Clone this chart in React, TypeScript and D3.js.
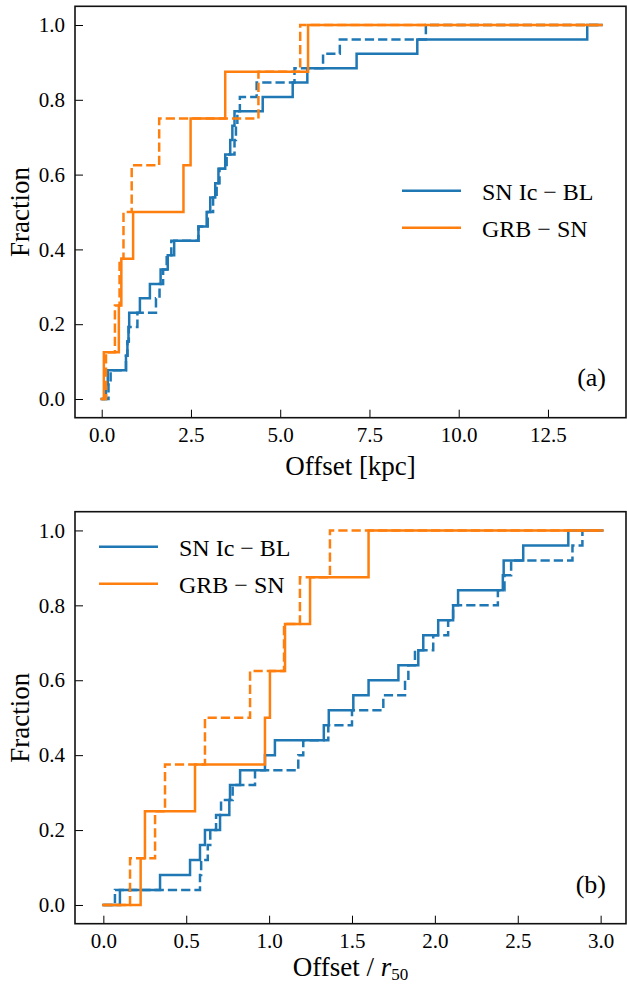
import React, { useEffect, useRef } from "react";
import * as d3 from "d3";

const BLUE = "#1f77b4";
const ORANGE = "#ff7f0e";
const FONT = "Liberation Serif, DejaVu Serif, serif";

// offsets (kpc) at which each cumulative curve steps up
const kpcIcBL = [0.12, 0.17, 0.68, 0.72, 0.75, 0.77, 1.07, 1.35, 1.65, 1.85, 2.03, 2.71, 2.94, 3.04, 3.18, 3.27, 3.46, 3.6, 3.66, 3.72, 4.51, 5.35, 5.76, 7.14, 8.84, 13.6];
const kpcIcBLAlt = [0.19, 0.25, 0.68, 0.72, 0.76, 1.0, 1.52, 1.62, 1.72, 1.82, 1.95, 2.71, 2.97, 3.12, 3.22, 3.3, 3.5, 3.72, 3.76, 3.8, 3.87, 4.34, 5.4, 6.2, 6.67, 9.08];
const kpcGRB = [0.06, 0.48, 0.55, 0.88, 2.29, 2.49, 3.46, 5.78];
const kpcGRBAlt = [0.12, 0.37, 0.5, 0.61, 0.84, 1.61, 4.39, 5.56];

// offsets in units of r50, panel (b)
const r50IcBL = [0.1, 0.342, 0.523, 0.583, 0.613, 0.704, 0.76, 0.764, 0.825, 0.975, 1.035, 1.33, 1.36, 1.508, 1.6, 1.78, 1.9, 1.93, 2.02, 2.11, 2.14, 2.41, 2.415, 2.533, 2.805];
const r50IcBLAlt = [0.07, 0.583, 0.59, 0.63, 0.645, 0.68, 0.71, 0.78, 0.915, 1.176, 1.206, 1.357, 1.5, 1.689, 1.82, 1.84, 1.88, 1.99, 2.08, 2.11, 2.38, 2.42, 2.46, 2.83, 2.89];
const r50GRB = [0.225, 0.251, 0.553, 0.975, 1.005, 1.096, 1.247, 1.6];
const r50GRBAlt = [0.161, 0.312, 0.372, 0.613, 0.885, 1.09, 1.186, 1.367];

const yTicks = [0, 0.2, 0.4, 0.6, 0.8, 1.0];
const kpcTicks = [0, 2.5, 5, 7.5, 10, 12.5];
const r50Ticks = [0, 0.5, 1, 1.5, 2, 2.5, 3];
const legendLabels = ["SN Ic \u2212 BL", "GRB \u2212 SN"];

const LEFT = 75;
const RIGHT = 626;

type Panel = {
  top: number;
  bottom: number;
  xDomain: [number, number];
  xTicks: number[];
  xEnd: number;
  curves: { data: number[]; color: string; dashed: boolean }[];
  legendX: number;
  legendY: number;
  tag: string;
  tagY: number;
  xLabelY: number;
  kpc: boolean;
};

const panels: Panel[] = [
  {
    top: 6.3,
    bottom: 417.7,
    xDomain: [-0.748, 14.686],
    xTicks: kpcTicks,
    xEnd: 14.0,
    curves: [
      { data: kpcIcBL, color: BLUE, dashed: false },
      { data: kpcIcBLAlt, color: BLUE, dashed: true },
      { data: kpcGRB, color: ORANGE, dashed: false },
      { data: kpcGRBAlt, color: ORANGE, dashed: true },
    ],
    legendX: 402,
    legendY: 190.7,
    tag: "(a)",
    tagY: 386,
    xLabelY: 475,
    kpc: true,
  },
  {
    top: 511.7,
    bottom: 923.7,
    xDomain: [-0.171, 3.153],
    xTicks: r50Ticks,
    xEnd: 3.01,
    curves: [
      { data: r50IcBL, color: BLUE, dashed: false },
      { data: r50IcBLAlt, color: BLUE, dashed: true },
      { data: r50GRB, color: ORANGE, dashed: false },
      { data: r50GRBAlt, color: ORANGE, dashed: true },
    ],
    legendX: 99,
    legendY: 546.7,
    tag: "(b)",
    tagY: 893,
    xLabelY: 976,
    kpc: false,
  },
];

function drawPanel(svg: d3.Selection<SVGSVGElement, unknown, null, undefined>, p: Panel) {
  const x = d3.scaleLinear().domain(p.xDomain).range([LEFT, RIGHT]);
  const y = d3.scaleLinear().domain([-0.05, 1.05]).range([p.bottom, p.top]);
  const g = svg.append("g").attr("font-family", FONT);

  const line = d3
    .line<[number, number]>()
    .x((d) => x(d[0]))
    .y((d) => y(d[1]))
    .curve(d3.curveStepAfter);

  p.curves.forEach((c) => {
    const n = c.data.length;
    const pts: [number, number][] = [[0, 0]];
    c.data.forEach((v, i) => pts.push([v, (i + 1) / n]));
    pts.push([p.xEnd, 1]);
    g.append("path")
      .attr("d", line(pts))
      .attr("fill", "none")
      .attr("stroke", c.color)
      .attr("stroke-width", 2.5)
      .attr("stroke-linecap", c.dashed ? "butt" : "square")
      .attr("stroke-dasharray", c.dashed ? "9.25,4" : null);
  });

  const xAxis = g
    .append("g")
    .attr("transform", `translate(0,${p.bottom})`)
    .call(
      d3
        .axisBottom(x)
        .tickValues(p.xTicks)
        .tickSizeInner(-8)
        .tickSizeOuter(0)
        .tickPadding(9)
        .tickFormat(d3.format(".1f"))
    );
  const yAxis = g
    .append("g")
    .attr("transform", `translate(${LEFT},0)`)
    .call(
      d3
        .axisLeft(y)
        .tickValues(yTicks)
        .tickSizeInner(-8)
        .tickSizeOuter(0)
        .tickPadding(10)
        .tickFormat(d3.format(".1f"))
    );
  [xAxis, yAxis].forEach((a) => {
    a.attr("font-family", FONT).attr("font-size", 21);
    a.select(".domain").remove();
    a.selectAll("line").attr("stroke", "#000").attr("stroke-width", 1);
    a.selectAll("text").attr("fill", "#000");
  });

  g.append("rect")
    .attr("x", LEFT)
    .attr("y", p.top)
    .attr("width", RIGHT - LEFT)
    .attr("height", p.bottom - p.top)
    .attr("fill", "none")
    .attr("stroke", "#111")
    .attr("stroke-width", 1.6);

  // legend
  legendLabels.forEach((lab, i) => {
    const ly = p.legendY + i * 37;
    g.append("line")
      .attr("x1", p.legendX)
      .attr("x2", p.legendX + 59)
      .attr("y1", ly)
      .attr("y2", ly)
      .attr("stroke", i === 0 ? BLUE : ORANGE)
      .attr("stroke-width", 2.5);
    g.append("text")
      .attr("x", p.legendX + 80)
      .attr("y", ly + 9)
      .attr("font-size", 24)
      .text(lab);
  });

  g.append("text")
    .attr("x", 606)
    .attr("y", p.tagY)
    .attr("text-anchor", "end")
    .attr("font-size", 26)
    .text(p.tag);

  const cy = (p.top + p.bottom) / 2;
  g.append("text")
    .attr("transform", `translate(29,${cy}) rotate(-90)`)
    .attr("text-anchor", "middle")
    .attr("font-size", 27)
    .text("Fraction");

  const xl = g
    .append("text")
    .attr("x", (LEFT + RIGHT) / 2)
    .attr("y", p.xLabelY)
    .attr("text-anchor", "middle")
    .attr("font-size", 27);
  if (p.kpc) {
    xl.text("Offset [kpc]");
  } else {
    xl.append("tspan").text("Offset / ");
    xl.append("tspan").attr("font-style", "italic").text("r");
    xl.append("tspan").attr("dy", 4).attr("font-size", 17).text("50");
  }
}

export default function App() {
  const ref = useRef<SVGSVGElement>(null);

  useEffect(() => {
    const svg = d3.select(ref.current as SVGSVGElement);
    svg.selectAll("*").remove();
    panels.forEach((p) => drawPanel(svg, p));
  }, []);

  return (
    <svg
      ref={ref}
      width={627}
      height={985}
      style={{ position: "absolute", left: 0, top: 0, background: "#fff" }}
    />
  );
}
